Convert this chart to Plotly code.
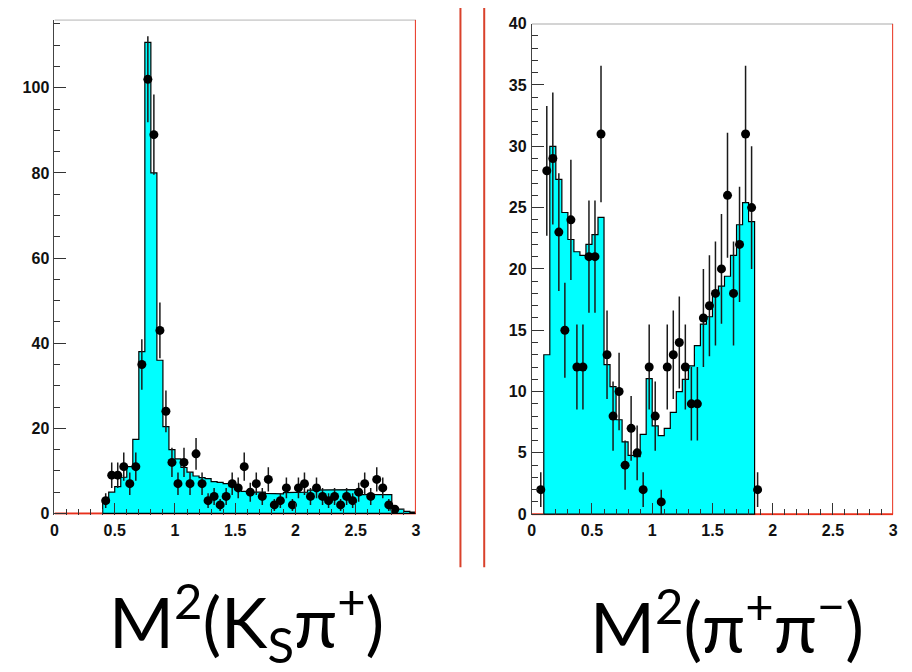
import numpy as np
import plotly.graph_objects as go

BIN_W = 0.05

# ---- Left panel: M^2(Ks pi+) ----
ks_hist_lo = 0.40
ks_hist = [2.5, 5.0, 6.3, 8.5, 11.0, 17.4, 38.0, 110.7, 80.0, 36.0,
           20.4, 15.0, 12.8, 10.8, 9.7, 8.8, 8.4, 8.2, 7.5, 7.3,
           7.0, 6.3, 5.6, 5.2, 5.1, 5.0, 5.0, 4.7, 4.6, 4.6,
           4.9, 5.0, 5.0, 5.0, 5.5, 5.6, 5.6, 5.6, 5.6, 5.6,
           5.6, 5.6, 4.6, 4.4, 4.4, 4.4, 4.4, 4.4, 1.2, 1.0,
           0.5, 0.3]
ks_pts_x0 = 0.425
ks_data = [3, 9, 9, 11, 7, 11, 35, 102, 89, 43,
           24, 12, 7, 12, 7, 14, 7, 3, 4, 2,
           4, 7, 6, 11, 5, 7, 4, 8, 2, 3,
           6, 2, 6, 7, 4, 6, 4, 3, 4, 2,
           4, 3, 5, 7, 4, 8, 6, 2, 1]

# ---- Right panel: M^2(pi+ pi-) ----
pp_hist_lo = 0.10
pp_hist = [13.0, 30.0, 27.3, 24.6, 22.4, 21.4, 21.1, 22.0, 22.8, 24.2,
           12.2, 10.4, 7.7, 5.9, 4.8, 4.7, 6.5, 11.05, 7.2, 6.4,
           7.0, 8.3, 10.0, 11.0, 12.1, 13.75, 15.5, 16.1, 17.9, 18.6,
           19.4, 21.1, 23.6, 25.4, 23.85]
pp_pts_x0 = 0.075
pp_data = [2, 28, 29, 23, 15, 24, 12, 12, 21, 21,
           31, 13, 8, 10, 4, 7, 5, 2, 12, 8,
           1, 12, 13, 14, 12, 9, 9, 16, 17, 18,
           20, 26, 18, 22, 31, 25, 2]

x_ticks = [0, 0.5, 1, 1.5, 2, 2.5, 3]


def step_path(lo, vals):
    xs, ys = [lo], [0]
    for i, v in enumerate(vals):
        a = lo + i * BIN_W
        xs += [a, a + BIN_W]
        ys += [v, v]
    hi = lo + len(vals) * BIN_W
    xs += [hi, lo]
    ys += [0, 0]
    return xs, ys


def centers(x0, n):
    return [x0 + i * BIN_W for i in range(n)]


W, H = 912, 672
fig = go.Figure()

panels = [
    dict(xa="x", ya="y", lo=ks_hist_lo, hist=ks_hist, x0=ks_pts_x0, data=ks_data),
    dict(xa="x2", ya="y2", lo=pp_hist_lo, hist=pp_hist, x0=pp_pts_x0, data=pp_data),
]
for p in panels:
    hx, hy = step_path(p["lo"], p["hist"])
    fig.add_trace(go.Scatter(x=hx, y=hy, mode="lines", fill="toself",
                             fillcolor="#00FFFF",
                             line=dict(color="black", width=1.2),
                             xaxis=p["xa"], yaxis=p["ya"], hoverinfo="skip"))
    d = np.array(p["data"], dtype=float)
    fig.add_trace(go.Scatter(x=centers(p["x0"], len(d)), y=d, mode="markers",
                             marker=dict(color="black", size=9),
                             error_y=dict(type="data", array=np.sqrt(d),
                                          color="#1a1a1a", thickness=1.5, width=0),
                             xaxis=p["xa"], yaxis=p["ya"], cliponaxis=False))

tickfont = dict(family="Liberation Sans, Arial, sans-serif", size=16,
                color="#111", weight="bold")
xcommon = dict(range=[0, 3], tickmode="array", tickvals=x_ticks,
               ticks="inside", ticklen=12, tickwidth=1, tickcolor="#333",
               minor=dict(dtick=0.1, tick0=0, ticklen=6, tickwidth=1,
                          tickcolor="#333", ticks="inside"),
               showgrid=False, zeroline=False, showline=False,
               ticklabelstandoff=4, tickfont=tickfont)
ycommon = dict(ticks="inside", ticklen=12, tickwidth=1, tickcolor="#333",
               showgrid=False, zeroline=False, showline=True,
               linecolor="#444", linewidth=1, ticklabelstandoff=1,
               tickfont=tickfont)

L = dict(x0=51, x1=416, ytop=12, ybot=518.3)
R = dict(x0=533, x1=898, ytop=16, ybot=519)

fig.update_layout(
    width=W, height=H, margin=dict(l=0, r=0, t=0, b=0),
    paper_bgcolor="white", plot_bgcolor="white", showlegend=False,
    xaxis=dict(domain=[L["x0"] / W, L["x1"] / W], anchor="y", **xcommon),
    yaxis=dict(domain=[1 - L["ybot"] / H, 1 - L["ytop"] / H], anchor="x",
               range=[-0.3, 116], tickmode="linear", tick0=0, dtick=20,
               minor=dict(dtick=5, tick0=0, ticklen=6, tickwidth=1,
                          tickcolor="#333", ticks="inside"), **ycommon),
    xaxis2=dict(domain=[R["x0"] / W, R["x1"] / W], anchor="y2", **xcommon),
    yaxis2=dict(domain=[1 - R["ybot"] / H, 1 - R["ytop"] / H], anchor="x2",
                range=[-0.1, 40], tickmode="linear", tick0=0, dtick=5,
                minor=dict(dtick=1, tick0=0, ticklen=6, tickwidth=1,
                           tickcolor="#333", ticks="inside"), **ycommon),
)

shapes = []
for xr, yr, top in [("x", "y", 116), ("x2", "y2", 40)]:
    # red baseline (visible where histogram is empty)
    shapes.append(dict(type="line", xref=xr, yref=yr, x0=0, x1=3, y0=0, y1=0,
                       line=dict(color="#e8301c", width=2), layer="below"))
    # top frame
    shapes.append(dict(type="line", xref=xr, yref=yr, x0=0, x1=3, y0=top, y1=top,
                       line=dict(color="#555", width=1.2), layer="above"))
    # right frame (red)
    shapes.append(dict(type="line", xref=xr, yref=yr, x0=3, x1=3, y0=0, y1=top,
                       line=dict(color="#e8301c", width=2), layer="above"))
# separator lines between the panels
for sx in [461, 485]:
    shapes.append(dict(type="line", xref="paper", yref="paper",
                       x0=sx / W, x1=sx / W, y0=1, y1=1 - 572 / H,
                       line=dict(color="#d9412b", width=2)))
fig.update_layout(shapes=shapes)

label_font = dict(family="Lato, Open Sans, sans-serif", size=70, color="black")
fig.add_annotation(x=245 / W, y=1 - 628 / H, xref="paper", yref="paper",
                   text="M<sup>2</sup>(K<sub>S</sub>π<sup>+</sup>)",
                   showarrow=False, font=label_font, xanchor="center", yanchor="middle")
fig.add_annotation(x=730 / W, y=1 - 628 / H, xref="paper", yref="paper",
                   text="M<sup>2</sup>(π<sup>+</sup>π<sup>−</sup>)",
                   showarrow=False, font=label_font, xanchor="center", yanchor="middle")

fig.write_html("out.html")
